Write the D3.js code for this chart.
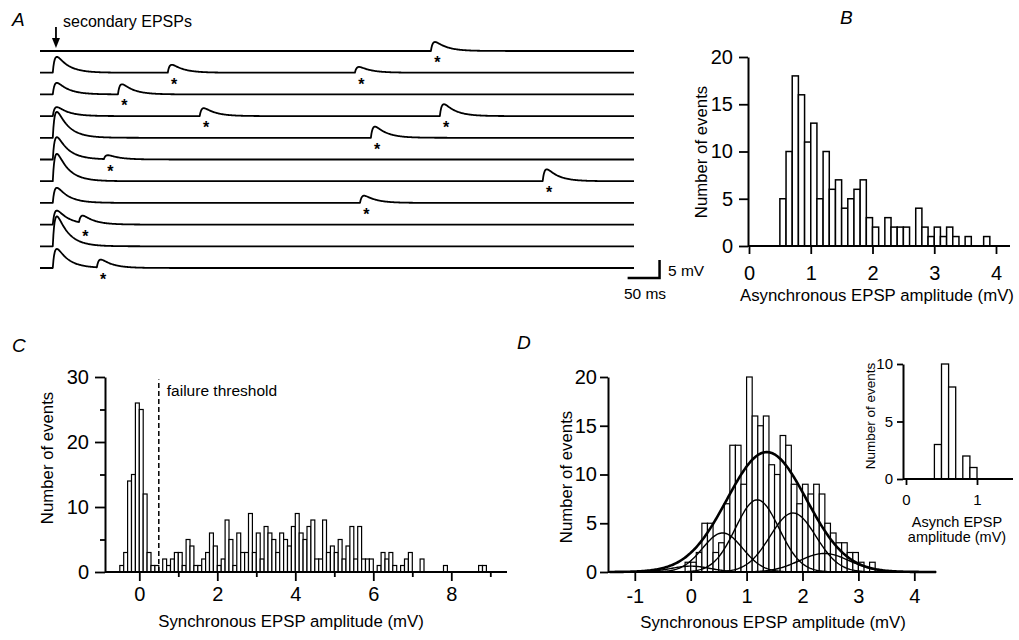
<!DOCTYPE html>
<html>
<head>
<meta charset="utf-8">
<script src="https://cdnjs.cloudflare.com/ajax/libs/d3/7.8.5/d3.min.js"></script>
<style>
  body { margin: 0; background: #fff; }
  svg text { font-family: "Liberation Sans", Arial, Helvetica, sans-serif; fill: #000; }
</style>
</head>
<body>
<div id="fig"></div>
<script>
// ---------------- data ----------------
// A: sweeps, primary EPSP amplitude (mV), asynchronous events (sweep, onset ms, mV)
var stimTime = 20;
var sweepPrimaryAmp = [0, 4.4, 3.2, 2.5, 7.2, 6.2, 7.6, 4.2, 3.9, 8.3, 5.3];
var asyncSweep = [0, 1, 1, 2, 3, 3, 4, 5, 6, 7, 8, 10];
var asyncTime  = [612, 200, 493, 122, 250, 626, 518, 100, 787, 501, 61, 89];
var asyncAmp   = [2.5, 2.2, 1.6, 2.8, 2.2, 3.3, 3.1, 1.1, 3.3, 2.0, 2.0, 2.2];

// B: asynchronous EPSP amplitude histogram, 0.1 mV bins from 0.5 mV
var binWidth = 0.1;
var asyncStart = 0.5;
var asyncCounts = [5, 10, 18, 16, 11, 13, 5, 10, 6, 7, 4, 5, 6, 7, 3, 2, 0, 3, 2, 2,
                   2, 0, 4, 2, 1, 2, 1, 2, 1, 0, 1, 0, 0, 1];

// C: synchronous EPSP amplitude histogram, bins from -0.5 mV
var syncStart = -0.5;
var syncCounts = [1, 3, 14, 15, 26, 25, 12, 3, 1, 1,
                  0, 2, 1, 2, 3, 3, 1, 5, 4, 1,
                  1, 2, 3, 6, 4, 1, 2, 8, 5, 1,
                  6, 3, 3, 9, 3, 6, 2, 7, 6, 5,
                  3, 6, 5, 4, 7, 9, 6, 5, 7, 8,
                  2, 2, 8, 3, 4, 3, 5, 2, 4, 7,
                  2, 7, 2, 2, 2, 0, 1, 3, 2, 3,
                  1, 0, 1, 2, 3, 0, 0, 2, 0, 0,
                  0, 0, 0, 1, 0, 0, 0, 0, 0, 0,
                  0, 0, 1, 1];
var failureThreshold = 0.5;

// D: synchronous EPSPs (second cell), bins from -0.1 mV, and Gaussian fits
var dStart = -0.1;
var dCounts = [1, 1, 2, 5, 5, 2, 3, 7, 13, 13, 9, 20, 16, 15, 16, 11, 10, 14, 13, 9,
               7, 9, 8, 9, 8, 5, 4, 3, 3, 2, 2, 1, 0, 1];
var compMean  = [0, 0.57, 1.19, 1.83, 2.39];
var compAmp   = [0.6, 4.0, 7.4, 6.05, 1.9];
var compSigma = [0.35, 0.36, 0.39, 0.41, 0.45];
var sumFit = { mean: 1.36, amp: 12.3, sigma: 0.71 };

// D inset: asynchronous EPSPs, bins from 0.4 mV
var insetStart = 0.4;
var insetCounts = [3, 10, 8, 0, 2, 1];

// ---------------- drawing ----------------
var FONT = '"Liberation Sans", Arial, Helvetica, sans-serif';
var TICK_FS = 20;
var TITLE_FS = 16.8;
var svg = d3.select("#fig").append("svg")
    .attr("width", 1019)
    .attr("height", 640)
    .style("background", "#fff");

function epsp(t) {
    // normalised double exponential, peak = 1
    if (t < 0) return 0;
    return (Math.exp(-t / 18) - Math.exp(-t / 3)) / 0.582;
}

function hist(g, counts, start, xs, ys, sw) {
    var d = counts.map(function (c, i) { return { x0: start + i * binWidth, c: c }; })
        .filter(function (d) { return d.c > 0; });
    g.selectAll(null).data(d).enter().append("rect")
        .attr("x", function (d) { return xs(d.x0); })
        .attr("width", function (d) { return xs(d.x0 + binWidth) - xs(d.x0); })
        .attr("y", function (d) { return ys(d.c); })
        .attr("height", function (d) { return ys(0) - ys(d.c); })
        .attr("fill", "#fff")
        .attr("stroke", "#000")
        .attr("stroke-width", sw);
}

function styleAxis(a, fs) {
    a.attr("font-size", fs).attr("font-family", FONT);
    a.select(".domain").attr("stroke-width", 2);
    a.selectAll(".tick line").attr("stroke-width", 1.8);
}

var plain = function (d) { return String(d); };

function label(x, y, txt, fs, opts) {
    opts = opts || {};
    var t = svg.append("text")
        .attr("x", x).attr("y", y)
        .attr("font-size", fs)
        .attr("text-anchor", opts.anchor || "start")
        .text(txt);
    if (opts.italic) t.attr("font-style", "italic");
    if (opts.rotate) t.attr("transform", "rotate(-90," + x + "," + y + ")");
    return t;
}

// ===== A : traces =====
var tx = d3.scaleLinear().domain([0, 930]).range([40, 634]);
var sweepY = d3.scaleLinear().domain([0, 10]).range([51, 268]);
var mv = d3.scaleLinear().domain([0, 5]).range([0, 18]);
var gA = svg.append("g");
var tms = d3.range(0, 931, 1);

sweepPrimaryAmp.forEach(function (amp, i) {
    var ev = [];
    asyncSweep.forEach(function (s, k) { if (s === i) ev.push(k); });
    var line = d3.line()
        .x(function (t) { return tx(t); })
        .y(function (t) {
            var v = amp * epsp(t - stimTime);
            ev.forEach(function (k) { v += asyncAmp[k] * epsp(t - asyncTime[k]); });
            return sweepY(i) - mv(v);
        });
    gA.append("path")
        .datum(tms)
        .attr("d", line)
        .attr("fill", "none")
        .attr("stroke", "#000")
        .attr("stroke-width", 1.8)
        .attr("stroke-linejoin", "round");
});

// asterisks under the asynchronous events
gA.selectAll(".star").data(asyncSweep).enter().append("text")
    .attr("x", function (s, k) { return tx(asyncTime[k] + 10); })
    .attr("y", function (s) { return sweepY(s) + 17; })
    .attr("text-anchor", "middle")
    .attr("font-size", 16)
    .attr("font-weight", "bold")
    .text("*");

// stimulus arrow
var ax = tx(stimTime + 5);
gA.append("line").attr("x1", ax).attr("x2", ax).attr("y1", 27).attr("y2", 40)
    .attr("stroke", "#000").attr("stroke-width", 1.8);
gA.append("path")
    .attr("d", "M" + (ax - 4) + ",38L" + (ax + 4) + ",38L" + ax + ",48Z")
    .attr("fill", "#000");
label(63, 27, "secondary EPSPs", 16);

// scale bar
var sbY = sweepY(10) + 10;
gA.append("path")
    .attr("d", "M" + tx(920) + "," + sbY + "H" + tx(970) + "V" + (sbY - mv(5)))
    .attr("fill", "none").attr("stroke", "#000").attr("stroke-width", 2.5);
label(668, 276, "5 mV", 15.5);
label(645, 299, "50 ms", 15.5, { anchor: "middle" });

// ===== B =====
var xB = d3.scaleLinear().domain([0, 4]).range([749, 996]);
var yB = d3.scaleLinear().domain([0, 20]).range([246, 57]);
var gB = svg.append("g");
hist(gB, asyncCounts, asyncStart, xB, yB, 1.5);
gB.append("line").attr("x1", 748).attr("x2", 1010).attr("y1", 246).attr("y2", 246)
    .attr("stroke", "#000").attr("stroke-width", 2);
gB.append("g").attr("transform", "translate(748,0)")
    .call(d3.axisLeft(yB).tickValues([0, 5, 10, 15, 20]).tickSize(9).tickPadding(6)
        .tickSizeOuter(0).tickFormat(plain))
    .call(styleAxis, TICK_FS);
gB.append("g").attr("transform", "translate(0,246)")
    .call(d3.axisBottom(xB).tickValues([0, 1, 2, 3, 4]).tickSize(8).tickPadding(12).tickFormat(plain))
    .call(styleAxis, TICK_FS)
    .call(function (g) { g.select(".domain").remove(); });
label(877, 301, "Asynchronous EPSP amplitude (mV)", TITLE_FS, { anchor: "middle" });
label(707, 152, "Number of events", TITLE_FS, { anchor: "middle", rotate: true });

// ===== C =====
var xC = d3.scaleLinear().domain([0, 8]).range([139.3, 451.3]);
var yC = d3.scaleLinear().domain([0, 30]).range([572, 377]);
var gC = svg.append("g");
hist(gC, syncCounts, syncStart, xC, yC, 1.2);
gC.append("line").attr("x1", 105).attr("x2", 507).attr("y1", 572).attr("y2", 572)
    .attr("stroke", "#000").attr("stroke-width", 2);
gC.append("g").attr("transform", "translate(105,0)")
    .call(d3.axisLeft(yC).tickValues([0, 10, 20, 30]).tickSize(10).tickPadding(6)
        .tickSizeOuter(0).tickFormat(plain))
    .call(styleAxis, TICK_FS);
gC.append("g").attr("transform", "translate(105,0)")
    .call(d3.axisLeft(yC).tickValues([5, 15, 25]).tickSize(5).tickFormat("").tickSizeOuter(0))
    .call(styleAxis, TICK_FS)
    .call(function (g) { g.select(".domain").remove(); });
gC.append("g").attr("transform", "translate(0,572)")
    .call(d3.axisBottom(xC).tickValues([0, 2, 4, 6, 8]).tickSize(9).tickPadding(6).tickFormat(plain))
    .call(styleAxis, TICK_FS)
    .call(function (g) { g.select(".domain").remove(); });
gC.append("g").attr("transform", "translate(0,572)")
    .call(d3.axisBottom(xC).tickValues([1, 3, 5, 7, 9]).tickSize(5).tickFormat(""))
    .call(styleAxis, TICK_FS)
    .call(function (g) { g.select(".domain").remove(); });
gC.append("line")
    .attr("x1", xC(failureThreshold)).attr("x2", xC(failureThreshold))
    .attr("y1", yC(0)).attr("y2", yC(29.6))
    .attr("stroke", "#000").attr("stroke-width", 1.5).attr("stroke-dasharray", "5,3");
label(xC(failureThreshold) + 8, 396, "failure threshold", 15.5);
label(291, 627, "Synchronous EPSP amplitude (mV)", TITLE_FS, { anchor: "middle" });
label(53, 458, "Number of events", TITLE_FS, { anchor: "middle", rotate: true });

// ===== D =====
var xD = d3.scaleLinear().domain([0, 4]).range([690.7, 914.3]);
var yD = d3.scaleLinear().domain([0, 20]).range([572, 377]);
var gD = svg.append("g");
hist(gD, dCounts, dStart, xD, yD, 1.2);
var xsFit = d3.range(-1.45, 4.4, 0.02);
var fitLine = function (m, a, s) {
    return d3.line()
        .x(function (x) { return xD(x); })
        .y(function (x) { return yD(a * Math.exp(-(x - m) * (x - m) / (2 * s * s))); });
};
compMean.forEach(function (m, i) {
    gD.append("path").datum(xsFit)
        .attr("d", fitLine(m, compAmp[i], compSigma[i]))
        .attr("fill", "none").attr("stroke", "#000").attr("stroke-width", 1.4);
});
gD.append("path").datum(xsFit)
    .attr("d", fitLine(sumFit.mean, sumFit.amp, sumFit.sigma))
    .attr("fill", "none").attr("stroke", "#000").attr("stroke-width", 2.6);
gD.append("line").attr("x1", 608).attr("x2", 935).attr("y1", 572).attr("y2", 572)
    .attr("stroke", "#000").attr("stroke-width", 2);
gD.append("g").attr("transform", "translate(608,0)")
    .call(d3.axisLeft(yD).tickValues([0, 5, 10, 15, 20]).tickSize(8).tickPadding(3)
        .tickSizeOuter(0).tickFormat(plain))
    .call(styleAxis, TICK_FS);
gD.append("g").attr("transform", "translate(0,572)")
    .call(d3.axisBottom(xD).tickValues([-1, 0, 1, 2, 3, 4]).tickSize(9).tickPadding(8).tickFormat(plain))
    .call(styleAxis, TICK_FS)
    .call(function (g) { g.select(".domain").remove(); });
label(773, 628, "Synchronous EPSP amplitude (mV)", TITLE_FS, { anchor: "middle" });
label(572, 477, "Number of events", TITLE_FS, { anchor: "middle", rotate: true });

// ===== D inset =====
var xI = d3.scaleLinear().domain([0, 1]).range([906, 977]);
var yI = d3.scaleLinear().domain([0, 10]).range([479, 364]);
var gI = svg.append("g");
hist(gI, insetCounts, insetStart, xI, yI, 1.3);
gI.append("line").attr("x1", 903).attr("x2", 1013).attr("y1", 479).attr("y2", 479)
    .attr("stroke", "#000").attr("stroke-width", 2);
gI.append("g").attr("transform", "translate(903,0)")
    .call(d3.axisLeft(yI).tickValues([0, 5, 10]).tickSize(6).tickPadding(4)
        .tickSizeOuter(0).tickFormat(plain))
    .call(styleAxis, 15);
gI.append("g").attr("transform", "translate(0,479)")
    .call(d3.axisBottom(xI).tickValues([0, 1]).tickSize(6).tickPadding(9).tickFormat(plain))
    .call(styleAxis, 15)
    .call(function (g) { g.select(".domain").remove(); });
label(875, 416, "Number of events", 13.5, { anchor: "middle", rotate: true });
label(957, 527, "Asynch EPSP", 14.5, { anchor: "middle" });
label(957, 542, "amplitude (mV)", 14.5, { anchor: "middle" });

// panel letters
label(12, 26, "A", 19, { italic: true });
label(840, 24, "B", 19, { italic: true });
label(12, 352, "C", 19, { italic: true });
label(517, 349, "D", 19, { italic: true });
</script>
</body>
</html>
